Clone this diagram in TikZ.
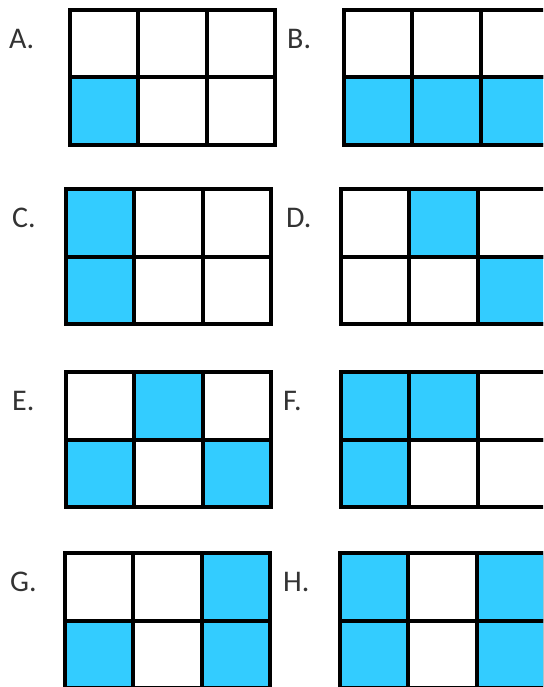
\documentclass[tikz,border=0pt]{standalone}
\usepackage{fontspec}
\setmainfont{Carlito}
\definecolor{tile}{HTML}{33CCFF}
\definecolor{ink}{HTML}{333333}
\tikzset{
  cell/.style={draw=black, line width=4pt, fill=white, minimum width=68.3pt,
               minimum height=67.5pt, inner sep=0pt, outer sep=0pt},
  on/.style={cell, fill=tile},
  lab/.style={font=\fontsize{30}{30}\selectfont, text=ink, anchor=west, inner sep=0pt},
}
\begin{document}
\begin{tikzpicture}[x=1pt, y=-1pt]
  \useasboundingbox (0,0) rectangle (543,687);
  \clip (0,0) rectangle (543,687);
  % name / label x / grid x / grid y / shaded cells (row col)
  \foreach \g/\lx/\x/\y/\on in {A/9/70/10/{10},
      B/287/344/10/{10,11,12},
      C/12/66/189/{00,10},
      D/286/341/189/{01,12},
      E/12/66/372/{01,10,12},
      F/283/341/372/{00,01,10},
      G/10/65/553/{02,10,12},
      H/283/340/553/{00,02,10,12}}{
    \node[lab] (lab-\g) at (\lx,\y+29) {\g.};
    \foreach \r in {0,1}
      \foreach \c in {0,1,2}
        \node[cell] (\g-\r\c) at (\x+34.15+\c*68.3, \y+33.75+\r*67.5) {};
    \foreach \k in \on
      \node[on] (\g-\k-on) at (\g-\k) {};
  }
\end{tikzpicture}
\end{document}
